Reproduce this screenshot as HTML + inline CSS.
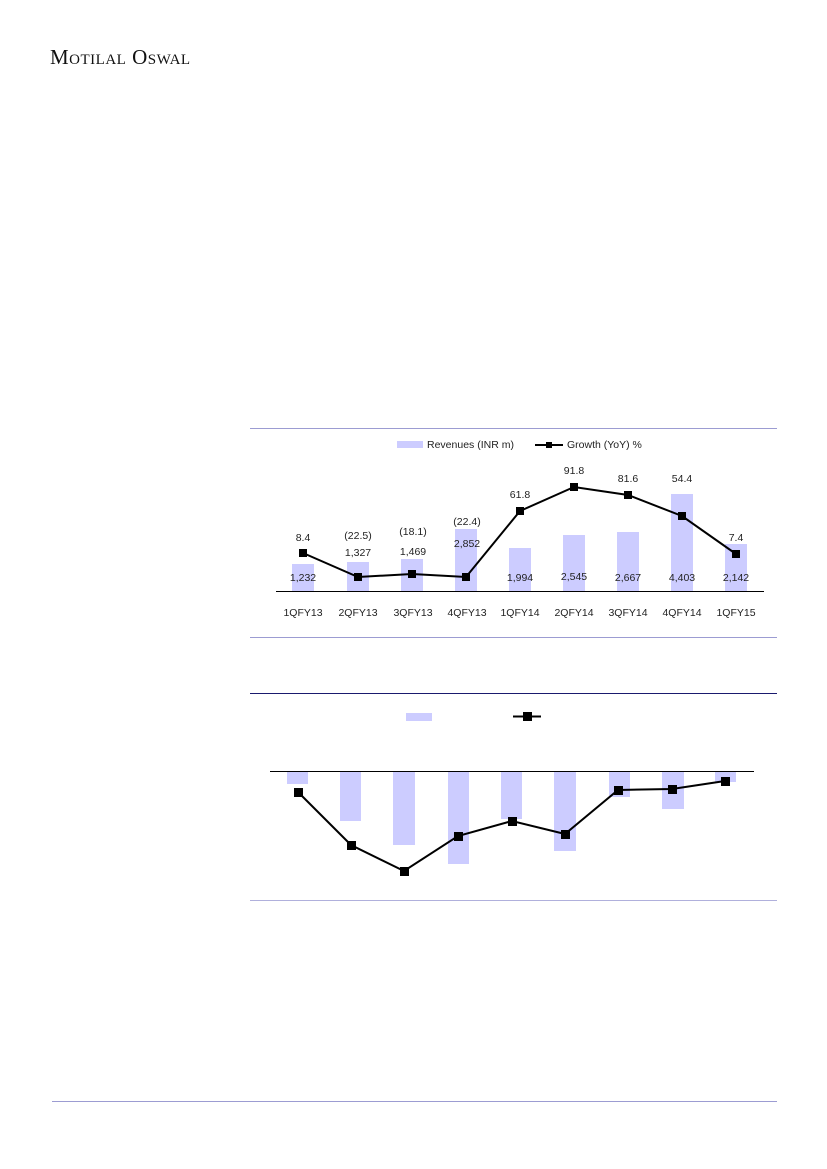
<!DOCTYPE html>
<html><head><meta charset="utf-8"><style>
body{margin:0;width:827px;height:1169px;background:#fff;position:relative;overflow:hidden}
.hdr{position:absolute;left:50px;top:45px;font-family:"Liberation Serif",serif;font-size:21px;font-variant:small-caps;letter-spacing:0.5px;color:#111}
svg{position:absolute;left:0;top:0}
text{font-family:"Liberation Sans",sans-serif;font-size:10.5px;fill:#222}
</style></head><body>
<div class="hdr">Motilal Oswal</div>
<svg width="827" height="1169">
<line x1="250" y1="428.5" x2="777" y2="428.5" stroke="#9c9cd2" stroke-width="1"/>
<line x1="250" y1="637.5" x2="777" y2="637.5" stroke="#9c9cd2" stroke-width="1"/>
<rect x="397" y="441" width="26" height="7" fill="#ccccff"/>
<text x="427" y="448">Revenues (INR m)</text>
<line x1="535" y1="445" x2="563" y2="445" stroke="#000" stroke-width="2"/>
<rect x="546" y="442" width="6" height="6" fill="#000"/>
<text x="567" y="448">Growth (YoY) %</text>
<g fill="#ccccff">
<rect x="292" y="564" width="22" height="27"/>
<rect x="347" y="562" width="22" height="29"/>
<rect x="401" y="559" width="22" height="32"/>
<rect x="455" y="529" width="22" height="62"/>
<rect x="509" y="548" width="22" height="43"/>
<rect x="563" y="535" width="22" height="56"/>
<rect x="617" y="532" width="22" height="59"/>
<rect x="671" y="494" width="22" height="97"/>
<rect x="725" y="544" width="22" height="47"/>
</g>
<line x1="276" y1="591.5" x2="764" y2="591.5" stroke="#000"/>
<polyline points="303,553 358,577 412,574 466,577 520,511 574,487 628,495 682,516 736,554" fill="none" stroke="#000" stroke-width="2"/>
<g fill="#000">
<rect x="299" y="549" width="8" height="8"/><rect x="354" y="573" width="8" height="8"/><rect x="408" y="570" width="8" height="8"/><rect x="462" y="573" width="8" height="8"/><rect x="516" y="507" width="8" height="8"/><rect x="570" y="483" width="8" height="8"/><rect x="624" y="491" width="8" height="8"/><rect x="678" y="512" width="8" height="8"/><rect x="732" y="550" width="8" height="8"/>
</g>
<g text-anchor="middle">
<text x="303" y="541">8.4</text><text x="358" y="539">(22.5)</text><text x="413" y="535">(18.1)</text><text x="467" y="525">(22.4)</text><text x="520" y="498">61.8</text><text x="574" y="474">91.8</text><text x="628" y="482">81.6</text><text x="682" y="482">54.4</text><text x="736" y="541">7.4</text>
<text x="303" y="581">1,232</text><text x="358" y="556">1,327</text><text x="413" y="555">1,469</text><text x="467" y="547">2,852</text><text x="520" y="581">1,994</text><text x="574" y="580">2,545</text><text x="628" y="581">2,667</text><text x="682" y="581">4,403</text><text x="736" y="581">2,142</text>
<text x="303" y="616">1QFY13</text><text x="358" y="616">2QFY13</text><text x="413" y="616">3QFY13</text><text x="467" y="616">4QFY13</text><text x="520" y="616">1QFY14</text><text x="574" y="616">2QFY14</text><text x="628" y="616">3QFY14</text><text x="682" y="616">4QFY14</text><text x="736" y="616">1QFY15</text>
</g>
<line x1="250" y1="693.5" x2="777" y2="693.5" stroke="#1a1a6e" stroke-width="1"/>
<line x1="250" y1="900.5" x2="777" y2="900.5" stroke="#b0b0dc" stroke-width="1"/>
<rect x="406" y="713" width="26" height="8" fill="#ccccff"/>
<line x1="513" y1="716.5" x2="541" y2="716.5" stroke="#000" stroke-width="2"/>
<rect x="523" y="712" width="9" height="9" fill="#000"/>
<g fill="#ccccff">
<rect x="287" y="772" width="21" height="12"/>
<rect x="340" y="772" width="21" height="49"/>
<rect x="393" y="772" width="22" height="73"/>
<rect x="448" y="772" width="21" height="92"/>
<rect x="501" y="772" width="21" height="47"/>
<rect x="554" y="772" width="22" height="79"/>
<rect x="609" y="772" width="21" height="25"/>
<rect x="662" y="772" width="22" height="37"/>
<rect x="715" y="772" width="21" height="10"/>
</g>
<line x1="270" y1="771.5" x2="754" y2="771.5" stroke="#000"/>
<polyline points="298,792 351,845 404,871 458,836 512,821 565,834 618,790 672,789 725,781" fill="none" stroke="#000" stroke-width="2"/>
<g fill="#000">
<rect x="294" y="788" width="9" height="9"/><rect x="347" y="841" width="9" height="9"/><rect x="400" y="867" width="9" height="9"/><rect x="454" y="832" width="9" height="9"/><rect x="508" y="817" width="9" height="9"/><rect x="561" y="830" width="9" height="9"/><rect x="614" y="786" width="9" height="9"/><rect x="668" y="785" width="9" height="9"/><rect x="721" y="777" width="9" height="9"/>
</g>
<line x1="52" y1="1101.5" x2="777" y2="1101.5" stroke="#9c9cd2" stroke-width="1"/>
</svg>
</body></html>
